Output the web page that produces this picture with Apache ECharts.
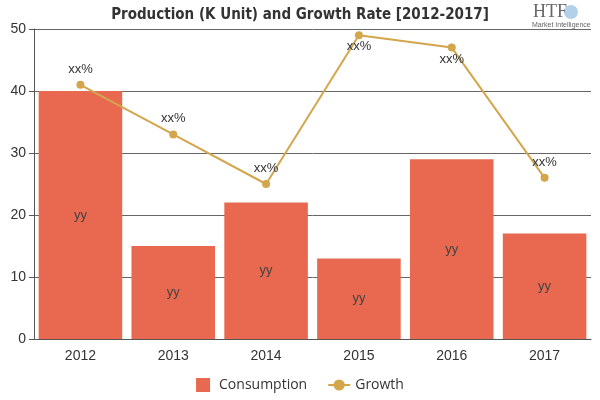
<!DOCTYPE html>
<html>
<head>
<meta charset="utf-8">
<script src="https://cdn.jsdelivr.net/npm/echarts@6/dist/echarts.min.js"></script>
<style>html,body{margin:0;padding:0;background:#fff}#c{width:600px;height:400px}</style>
</head>
<body>
<div id="c"></div>
<script>
const categories = ['2012', '2013', '2014', '2015', '2016', '2017'];
const consumption = [40, 15, 22, 13, 29, 17];
const growth = [41, 33, 25, 49, 47, 26];
const barLabel = 'yy';
const lineLabel = 'xx%';

const growthData = growth.map(v => ({ value: v, label: v > 45 ? { position: 'bottom', distance: 1 } : { position: 'top' } }));

const chart = echarts.init(document.getElementById('c'));
chart.setOption({
  animation: false,
  title: {
    text: 'Production (K Unit) and Growth Rate [2012-2017]',
    left: 'center', top: 3,
    textStyle: { fontFamily: 'DejaVu Sans Condensed', fontWeight: 'bold', fontSize: 15, color: '#333' }
  },
  graphic: [
    { type: 'text', left: 533, top: 3, style: { text: 'HTF', font: '18px serif', fill: '#666' } },
    { type: 'circle', shape: { cx: 571, cy: 12, r: 7 }, style: { fill: '#7fb0d8', opacity: 0.6 } },
    { type: 'text', left: 532, top: 22, style: { text: 'Market Intelligence', font: '7px sans-serif', fill: '#666' } }
  ],
  legend: {
    bottom: 3, left: 'center', itemGap: 20, itemWidth: 22, itemHeight: 14,
    textStyle: { fontSize: 14, color: '#333', fontFamily: 'Open Sans, sans-serif' },
    data: [{ name: 'Consumption', icon: 'path://M0,0h14v14h-14z' }, { name: 'Growth' }]
  },
  grid: { left: 34, right: 9, top: 29, bottom: 61 },
  xAxis: {
    type: 'category', data: categories,
    axisLine: { lineStyle: { color: '#555' } },
    axisTick: { alignWithLabel: true, lineStyle: { color: '#555' } },
    axisLabel: { fontSize: 14, color: '#333', margin: 10 }
  },
  yAxis: {
    type: 'value', min: 0, max: 50, interval: 10,
    axisLine: { show: true, lineStyle: { color: '#555' } },
    axisTick: { show: true, lineStyle: { color: '#555' } },
    splitLine: { lineStyle: { color: '#666' } },
    axisLabel: { fontSize: 14, color: '#333', margin: 8 }
  },
  series: [
    {
      name: 'Consumption', type: 'bar', data: consumption, barCategoryGap: '10%',
      itemStyle: { color: '#e8694f' },
      label: { show: true, position: 'inside', formatter: barLabel, fontSize: 13, color: '#444' }
    },
    {
      name: 'Growth', type: 'line', data: growthData,
      symbol: 'circle', symbolSize: 8,
      itemStyle: { color: '#d4a64c' }, lineStyle: { color: '#d4a64c', width: 2 },
      label: { show: true, position: 'top', formatter: lineLabel, fontSize: 13, color: '#333' }
    }
  ]
});
</script>
</body>
</html>
